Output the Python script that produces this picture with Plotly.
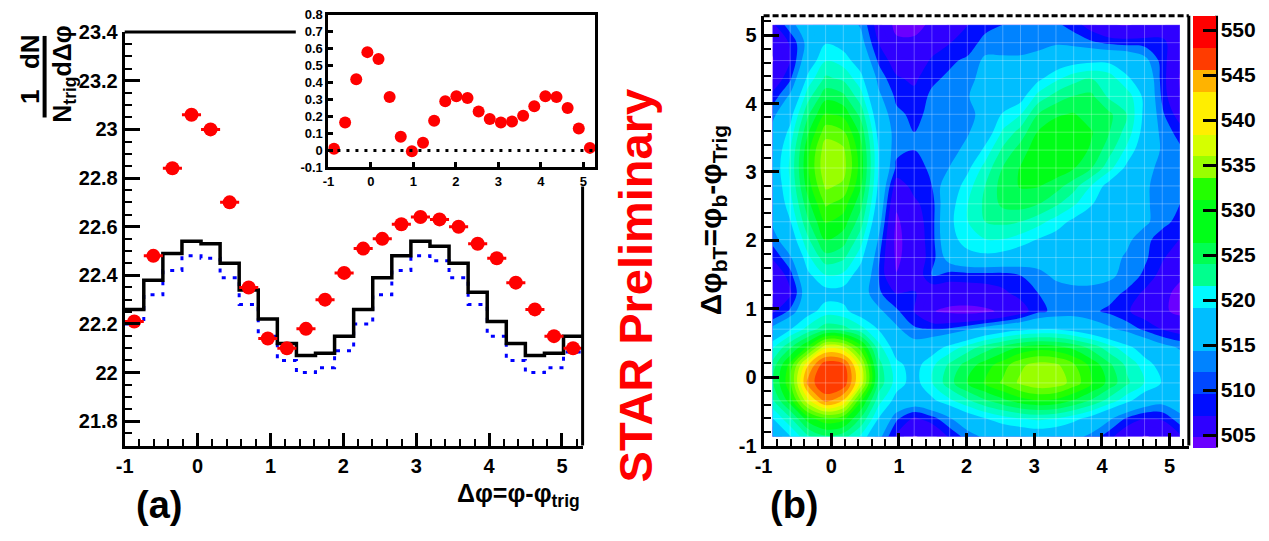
import numpy as np
import plotly.graph_objects as go

FONT = "Liberation Sans"

# ---------------- data : panel (a) ----------------
N_BINS = 24
BIN_WIDTH = 2 * np.pi / N_BINS
X_EDGES = [-1 + BIN_WIDTH * i for i in range(N_BINS + 1)]
X_CENTERS = [-1 + BIN_WIDTH * (i + 0.5) for i in range(N_BINS)]

red_points = [22.21, 22.48, 22.84, 23.06, 23.00, 22.70, 22.35, 22.14, 22.10, 22.18, 22.30, 22.41,
              22.51, 22.55, 22.61, 22.64, 22.63, 22.60, 22.53, 22.47, 22.37, 22.26, 22.15, 22.10]
black_hist = [22.26, 22.38, 22.49, 22.54, 22.53, 22.45, 22.34, 22.22, 22.12, 22.07, 22.08, 22.15,
              22.26, 22.39, 22.48, 22.54, 22.52, 22.45, 22.33, 22.21, 22.12, 22.07, 22.08, 22.15]
blue_hist = [22.20, 22.32, 22.42, 22.48, 22.47, 22.39, 22.28, 22.15, 22.05, 22.00, 22.02, 22.09,
             22.20, 22.32, 22.42, 22.48, 22.46, 22.39, 22.28, 22.15, 22.05, 22.00, 22.02, 22.085]
inset_points = [0.01, 0.165, 0.42, 0.58, 0.54, 0.315, 0.08, -0.005, 0.045, 0.175, 0.29, 0.32,
                0.31, 0.23, 0.185, 0.165, 0.17, 0.205, 0.26, 0.32, 0.315, 0.25, 0.13, 0.015]

x_tick_vals = [-1, 0, 1, 2, 3, 4, 5]
x_tick_text = ["-1", "0", "1", "2", "3", "4", "5"]
ya_tick_vals = [21.8, 22.0, 22.2, 22.4, 22.6, 22.8, 23.0, 23.2, 23.4]
ya_tick_text = ["21.8", "22", "22.2", "22.4", "22.6", "22.8", "23", "23.2", "23.4"]
yin_tick_vals = [-0.1, 0, 0.1, 0.2, 0.3, 0.4, 0.5, 0.6, 0.7, 0.8]
yin_tick_text = ["-0.1", "0", "0.1", "0.2", "0.3", "0.4", "0.5", "0.6", "0.7", "0.8"]

# ---------------- data : panel (b) ----------------
z_rows = [
    [514, 519, 523.5, 526, 525, 521, 515.5, 509, 504.5, 506, 510, 513, 515, 516, 516.5, 517, 516.5, 515.5, 513.5, 510.5, 507, 504.5, 505.5, 509],
    [519, 523.5, 530, 533, 532, 526, 519, 512.5, 509, 511, 514, 517, 519, 520.5, 521.5, 522, 521.5, 520, 518, 515, 511.5, 509.5, 510, 513.5],
    [523.5, 530, 540, 546.5, 543, 531.5, 522.5, 518, 517, 518.5, 521, 523.5, 526, 528, 530, 531, 530.5, 528.5, 526, 523, 520, 517, 515.5, 516.5],
    [526, 533, 546.5, 550.4, 550, 540, 525.5, 520.5, 518, 521.5, 525.5, 529, 531.5, 534, 536.5, 538, 537.5, 535, 531.5, 528, 524.5, 521.5, 519, 517.5],
    [525, 532, 543, 550, 549, 539, 525, 520, 518, 521, 524.5, 527.5, 530, 532.5, 535.5, 537, 536.5, 534, 530.5, 527, 523.5, 520.5, 518, 516.5],
    [521, 526, 531.5, 540, 539, 532, 522.5, 517.5, 516, 517.5, 520, 522.5, 525, 527, 529, 530, 529.5, 528, 525.5, 522.5, 520, 517.5, 515.5, 514],
    [515.5, 519, 522.5, 525.5, 525, 522.5, 519, 515, 512.5, 512, 512.5, 514, 516, 517.5, 518.5, 519, 519, 518, 516.5, 515, 513.5, 511.5, 509.5, 508],
    [509, 512.5, 518, 520.5, 520, 517.5, 515, 512.5, 509.5, 505, 504, 503.5, 504, 505.5, 508, 511.5, 512.5, 513, 512.5, 511.5, 510, 508, 505.5, 503.8],
    [504.5, 509, 517, 518, 518, 516, 512.5, 509.5, 510, 507, 507, 507.5, 508, 509, 510.5, 512, 513, 513.5, 513.5, 513, 511.5, 509, 506, 503.6],
    [506, 511, 518.5, 521.5, 521, 517.5, 512, 505, 507, 512, 511, 511, 511, 511, 512, 513.5, 515, 515.5, 515.5, 515, 513.5, 511.5, 508.5, 505.5],
    [510, 514, 521, 525.5, 524.5, 520, 512.5, 504, 507, 511, 516, 518, 518.5, 518, 517, 516, 516, 516, 516, 515.5, 514, 512.5, 510, 507.5],
    [513, 517, 523.5, 529, 527.5, 522.5, 514, 503.5, 507.5, 511, 518, 520.5, 521.5, 521.5, 520.5, 519, 518, 517, 516.5, 515.5, 515, 513, 510.5, 509.5],
    [515, 519, 526, 531.5, 530, 525, 516, 504, 508, 511, 518.5, 521.5, 524, 524.5, 524, 522.5, 520.5, 518.5, 516.5, 517.3, 515.5, 515, 513, 511],
    [516, 520.5, 528, 534, 532.5, 527, 517.5, 505.5, 509, 511, 518, 521.5, 524.5, 527, 527.5, 526.5, 524.5, 522, 519.5, 516.6, 515.5, 515, 513, 512],
    [516.5, 521.5, 530, 536.5, 535.5, 529, 518.5, 508, 510.5, 512, 517, 520.5, 524, 527.5, 529, 529, 527.5, 525, 521.5, 518, 516, 515, 513, 512.5],
    [517, 522, 531, 538, 537, 530, 519, 511.5, 511, 512.5, 514.5, 518.5, 522.5, 526.5, 529, 530, 530.5, 529, 526.5, 522.5, 518.5, 515.5, 513.5, 513],
    [516.5, 521.5, 530.5, 537.5, 536.5, 529.5, 519, 512.5, 512, 512.5, 513, 515.5, 520, 524.5, 527.5, 530.5, 530.5, 530, 528.5, 525, 521, 517, 514, 512.5],
    [515.5, 520, 528.5, 535, 534, 528, 518, 513, 512, 512.5, 513, 514, 517, 522, 525, 529, 530, 529.5, 529, 526.5, 523, 518, 513.5, 511],
    [513.5, 518, 526, 531.5, 530.5, 525.5, 516.5, 512.5, 511.5, 512.5, 513, 513.5, 515.5, 519.5, 521.5, 526.5, 528.5, 529, 527.5, 527, 524, 518.5, 512.5, 508],
    [510.5, 515, 523, 528, 527, 522.5, 515, 511.5, 510.5, 512.5, 513, 514, 517.3, 516.6, 518, 522.5, 525, 526.5, 527, 523.5, 523, 518.5, 511.5, 505],
    [507, 511.5, 520, 524.5, 523.5, 520, 513.5, 510, 509, 511.5, 512.5, 513.5, 515.5, 515.5, 516, 518.5, 521, 523, 524, 523, 519.5, 518, 511, 504.5],
    [504.5, 509.5, 517, 521.5, 520.5, 517.5, 511.5, 508, 507.5, 510, 511.5, 512.5, 515, 515, 515, 515.5, 517, 518, 518.5, 518.5, 518, 515.5, 511, 505.5],
    [505.5, 510, 515.5, 519, 518, 515.5, 509.5, 505.5, 505.5, 508, 509.5, 510.5, 513, 513, 513, 513.5, 514, 513.5, 512.5, 511.5, 511, 511, 510.5, 507],
    [509, 513.5, 516.5, 517.5, 516.5, 514, 508, 503.8, 503.6, 505.5, 507.5, 509.5, 511, 512, 512.5, 513, 512.5, 511, 508, 505, 504.5, 505.5, 507, 508],
]
for r in z_rows:
    assert len(r) == N_BINS, len(r)
assert len(z_rows) == N_BINS

z_min, z_max, n_levels = 502.4, 550.4, 20
cb_tick_vals = [505, 510, 515, 520, 525, 530, 535, 540, 545, 550]
cb_tick_text = [str(v) for v in cb_tick_vals]

palette = ["#6a00ff", "#2f00ff", "#000dff", "#0048ff", "#0083ff", "#00beff", "#00f9ff", "#00ffc9",
           "#00ff8e", "#00ff53", "#00ff18", "#23ff00", "#5eff00", "#99ff00", "#d5ff00", "#ffee00",
           "#ffb300", "#ff7700", "#ff3c00", "#ff0000"]
colorscale = []
for j, c in enumerate(palette):
    colorscale.append([j / n_levels, c])
    colorscale.append([(j + 1) / n_levels, c])

W, H = 1269, 541


def px_x(p):
    return p / W


def px_y(p):
    return 1 - p / H


fig = go.Figure()

# ---- panel (a) main ----
fig.add_trace(go.Scatter(x=X_EDGES, y=blue_hist + [blue_hist[-1]], mode="lines",
                         line=dict(shape="hv", color="#0000ff", width=3, dash="4px,7px"),
                         xaxis="x", yaxis="y", hoverinfo="skip"))
fig.add_trace(go.Scatter(x=X_EDGES, y=black_hist + [black_hist[-1]], mode="lines",
                         line=dict(shape="hv", color="black", width=3.5),
                         xaxis="x", yaxis="y", hoverinfo="skip"))
fig.add_trace(go.Scatter(x=X_CENTERS, y=red_points, mode="markers",
                         marker=dict(color="#ff0000", size=14),
                         error_x=dict(type="constant", value=BIN_WIDTH / 2, thickness=3, width=0, color="#ff0000"),
                         xaxis="x", yaxis="y"))
# ---- inset ----
fig.add_trace(go.Scatter(x=X_CENTERS, y=inset_points, mode="markers",
                         marker=dict(color="#ff0000", size=12), xaxis="x2", yaxis="y2"))

# ---- panel (b) ----
fig.add_trace(go.Contour(
    x=X_CENTERS, y=X_CENTERS, z=z_rows,
    contours=dict(start=z_min + (z_max - z_min) / n_levels, end=z_max,
                  size=(z_max - z_min) / n_levels, coloring="fill", showlines=False),
    line=dict(width=0), colorscale=colorscale, xaxis="x3", yaxis="y3",
    colorbar=dict(x=px_x(1197), xanchor="left", xpad=0, y=px_y(230), yanchor="middle",
                  len=450 / H, lenmode="fraction", ypad=0, thickness=23, thicknessmode="pixels",
                  outlinewidth=0, tickmode="array", tickvals=cb_tick_vals, ticktext=cb_tick_text,
                  ticks="inside", ticklen=13, tickwidth=3, tickcolor="black",
                  tickfont=dict(family=FONT, size=21, color="black", weight="bold"))))

# cell seams of the contour map
gx, gy = [], []
for c in X_CENTERS:
    gx += [c, c, None]
    gy += [X_CENTERS[0], X_CENTERS[-1], None]
for c in X_CENTERS:
    gx += [X_CENTERS[0], X_CENTERS[-1], None]
    gy += [c, c, None]
fig.add_trace(go.Scatter(x=gx, y=gy, mode="lines", line=dict(color="rgba(255,255,255,0.28)", width=1),
                         xaxis="x3", yaxis="y3", hoverinfo="skip"))

tick_font = dict(family=FONT, size=20, color="black", weight="bold")
small_font = dict(family=FONT, size=13, color="black", weight="bold")
xr = [-1, -1 + 2 * np.pi]

common = dict(showline=True, linecolor="black", linewidth=3, showgrid=False, zeroline=False,
              ticks="inside", tickcolor="black", tickwidth=3)

fig.update_layout(
    width=W, height=H, margin=dict(l=0, r=0, t=0, b=0),
    paper_bgcolor="white", plot_bgcolor="white", showlegend=False,
    xaxis=dict(domain=[px_x(117), px_x(580)], range=xr, anchor="y", tickmode="array",
               tickvals=x_tick_vals, ticktext=x_tick_text, ticklen=13, tickfont=tick_font,
               minor=dict(tickmode="linear", tick0=0, dtick=0.2, ticklen=7, tickwidth=2,
                          ticks="inside", tickcolor="black"), **common),
    yaxis=dict(domain=[px_y(453), px_y(22)], range=[21.7, 23.4], anchor="x", tickmode="array",
               tickvals=ya_tick_vals, ticktext=ya_tick_text, ticklen=15, tickfont=tick_font,
               minor=dict(tickmode="linear", tick0=21.8, dtick=0.05, ticklen=7, tickwidth=2,
                          ticks="inside", tickcolor="black"), **common),
    xaxis2=dict(domain=[px_x(323), px_x(593)], range=xr, anchor="y2", tickmode="array",
                tickvals=x_tick_vals, ticktext=x_tick_text, ticklen=5, tickfont=small_font,
                mirror=True, **common),
    yaxis2=dict(domain=[px_y(163), px_y(4)], range=[-0.1, 0.8], anchor="x2", tickmode="array",
                tickvals=yin_tick_vals, ticktext=yin_tick_text, ticklen=5, tickfont=small_font,
                mirror=True, **common),
    xaxis3=dict(domain=[px_x(763), px_x(1193)], range=xr, anchor="y3", tickmode="array",
                tickvals=x_tick_vals, ticktext=x_tick_text, ticklen=13, tickfont=tick_font,
                minor=dict(tickmode="linear", tick0=0, dtick=0.2, ticklen=7, tickwidth=2,
                           ticks="inside", tickcolor="black"), **common),
    yaxis3=dict(domain=[px_y(453), px_y(5)], range=xr, anchor="x3", tickmode="array",
                tickvals=x_tick_vals, ticktext=x_tick_text, ticklen=15, tickfont=tick_font,
                minor=dict(tickmode="linear", tick0=0, dtick=0.2, ticklen=7, tickwidth=2,
                           ticks="inside", tickcolor="black"), **common),
)

shapes = [
    dict(type="line", xref="x domain", yref="y domain", x0=0, x1=(290 - 117) / 463, y0=1, y1=1,
         line=dict(color="black", width=3)),
    dict(type="line", xref="x domain", yref="y domain", x0=1, x1=1, y0=0, y1=(453 - 183) / 431,
         line=dict(color="black", width=3)),
    dict(type="line", xref="x2 domain", yref="y2", x0=0, x1=1, y0=0, y1=0,
         line=dict(color="black", width=3, dash="3px,6px")),
    dict(type="line", xref="x3 domain", yref="y3 domain", x0=1, x1=1, y0=0, y1=1,
         line=dict(color="black", width=3)),
    dict(type="line", xref="x3 domain", yref="y3 domain", x0=0, x1=1, y0=1, y1=1,
         line=dict(color="black", width=3, dash="6px,3px")),
    dict(type="line", xref="paper", yref="paper", x0=px_x(1221), x1=px_x(1221), y0=px_y(455), y1=px_y(5),
         line=dict(color="black", width=3)),
    dict(type="line", xref="paper", yref="paper", x0=px_x(36), x1=px_x(36), y0=px_y(111), y1=px_y(26),
         line=dict(color="black", width=4)),
]
fig.update_layout(shapes=shapes)


def ann(text, x, y, size, angle=0, color="black", xanchor="center"):
    return dict(text=text, x=px_x(x), y=px_y(y), xref="paper", yref="paper", showarrow=False,
                textangle=angle, xanchor=xanchor, yanchor="middle",
                font=dict(family=FONT, size=size, color=color, weight="bold"))


annotations = [
    ann("1", 22, 90, 26, -90),
    ann("dN", 22, 42, 26, -90),
    ann("N<sub>trig</sub>dΔφ", 56, 66, 25, -90),
    ann("Δφ=φ-φ<sub>trig</sub>", 579, 505, 25, 0, xanchor="right"),
    ann("(a)", 152, 515, 38),
    ann("(b)", 794, 515, 38),
    ann("STAR Preliminary", 633, 286, 47, -90, color="#ff0000"),
    ann("Δφ<sub>bT</sub>=φ<sub>b</sub>-φ<sub>Trig</sub>", 711, 218, 30, -90),
]
fig.update_layout(annotations=annotations)

fig.write_html("out.html")
